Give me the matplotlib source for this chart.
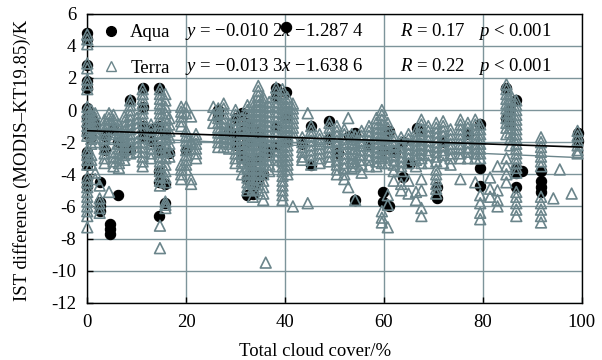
import numpy as np
import matplotlib.pyplot as plt
from matplotlib.lines import Line2D

plt.rcParams['font.family'] = ['Liberation Serif', 'DejaVu Serif']
plt.rcParams['mathtext.fontset'] = 'custom'
plt.rcParams['mathtext.rm'] = 'Liberation Serif'
plt.rcParams['mathtext.it'] = 'Liberation Serif:italic'
plt.rcParams['axes.unicode_minus'] = False
plt.rcParams['font.size'] = 13.5

# Aqua: cloud cover (%) of each column and the IST differences (K) stacked there
aqua_x = [0, 0.8, 1.6, 2.5, 3.5, 4.5, 5.2, 6.3, 7.5, 8.7, 11.2, 13.0, 14.6, 15.8, 16.5,
          20.0, 26.5, 28.7, 30.0, 31.3, 32.3, 33.5, 34.6, 35.6, 36.8, 38.2, 40.2, 43.5,
          45.2, 49.0, 50.8, 53.0, 54.2, 57.0, 59.8, 61.0, 62.3, 63.8, 65.2, 66.7, 67.3,
          70.8, 72.0, 77.0, 79.4, 84.8, 85.6, 86.8, 88.0, 91.8, 99.2]
aqua_y = [
    [4.8, 4.4, 2.8, 1.8, 1.4, 0.1, -0.5, -1.0, -1.5, -2.6, -3.0, -3.4, -4.3, -4.7],
    [-0.4, -1.1, -1.7],
    [-0.9],
    [-4.5, -5.7, -6.0, -6.3],
    [-1.6, -2.5],
    [-7.1, -7.4, -7.7],
    [-1.2],
    [-2.0, -5.3],
    [-2.6],
    [0.6, -2.4],
    [1.4, 0.2, -1.0, -1.3, -1.6],
    [-1.2, -1.9],
    [1.4, -1.0, -2.5, -3.8, -4.5, -6.6],
    [-1.5, -4.6, -5.8],
    [-2.7],
    [-2.5],
    [0.0, -0.4],
    [-1.3],
    [-0.5, -1.6, -2.2],
    [-0.2, -1.3, -2.8],
    [-0.8, -2.0, -3.2, -4.3, -5.3],
    [-1.2, -3.8, -4.8, -5.2],
    [-1.5, -3.0, -4.4],
    [-2.3, -4.0],
    [-2.6],
    [1.4, 0.9, -1.0, -2.2],
    [5.2, 1.1, -0.5, -2.0],
    [-2.1],
    [-1.0, -3.4],
    [-0.7, -1.8],
    [-2.7],
    [-1.6],
    [-1.4, -5.6],
    [-2.2],
    [-2.5, -5.1, -5.7],
    [-1.3, -6.0],
    [-2.6],
    [-2.0, -4.2],
    [-3.3],
    [-1.1],
    [-1.3],
    [-4.8, -5.5],
    [-2.0],
    [-1.5],
    [-0.9, -3.6, -4.7],
    [1.35, -0.5],
    [0.0, -0.8],
    [0.6, -3.6, -3.9, -4.8],
    [-3.8],
    [-3.8, -4.4, -4.8, -5.1],
    [-1.4, -1.9],
]

# Terra: same layout
terra_x = [0, 0.8, 1.6, 2.5, 3.5, 4.4, 5.3, 6.4, 7.5, 8.7, 10.0, 11.2, 12.9, 14.7, 15.8,
           16.6, 19.0, 20.0, 21.0, 22.0, 25.5, 26.5, 27.6, 28.7, 30.0, 31.3, 32.4, 33.5,
           34.6, 35.6, 36.1, 36.8, 38.2, 39.5, 40.5, 41.6, 43.5, 44.6, 45.3, 47.0, 49.0,
           50.5, 52.0, 52.8, 53.5, 54.2, 55.5, 57.0, 58.5, 59.6, 60.8, 62.0, 63.5, 65.0,
           66.5, 67.6, 69.0, 70.6, 72.0, 73.5, 75.5, 77.0, 78.5, 79.5, 81.5, 83.0, 84.8,
           85.6, 86.8, 91.8, 94.3, 95.6, 98.0, 99.2]
terra_y = [
    [4.7, 4.4, 4.1, 2.9, 2.6, 1.9, 1.6, 1.3, 0.2, -0.1, -0.4, -0.7, -1.0, -1.3, -1.6,
     -2.5, -2.8, -3.1, -3.4, -4.2, -4.5, -4.8, -5.1, -5.4, -5.7, -6.0, -6.3, -6.6, -7.3],
    [0.0, -0.3, -0.6, -0.9, -1.2, -1.5, -1.8, -2.1, -2.8, -3.1, -3.4],
    [-0.2, -0.5, -0.8, -1.1, -1.4, -1.7, -2.0, -3.9, -4.3],
    [-4.7, -5.5, -5.8, -6.1, -6.4],
    [-0.6, -0.9, -1.2, -1.5, -1.8, -2.1, -2.4, -2.7, -3.0, -3.3],
    [-0.2, -0.5, -0.8, -5.1],
    [-0.3, -0.6, -0.9, -1.2, -1.5, -1.8, -2.6, -2.9, -3.2, -3.5],
    [-0.9, -1.2, -1.5, -1.8, -2.1, -2.4, -2.7, -3.0, -3.3, -3.6],
    [-0.4, -0.7, -1.0, -1.3, -1.6, -1.9, -2.2, -2.5, -2.8, -3.1],
    [0.6, 0.3, 0.0, -0.3, -0.6, -0.9, -1.2, -1.5, -1.8, -2.1, -2.4, -2.7],
    [-0.5, -0.8, -1.1, -2.0, -2.3, -2.6],
    [1.3, 1.0, 0.7, 0.4, 0.1, -0.2, -0.5, -0.8, -1.1, -1.4, -1.7, -2.0, -2.3, -2.6,
     -2.9, -3.2, -3.5],
    [-0.9, -1.2, -1.5, -1.8, -2.1, -2.4, -2.7, -3.0],
    [1.3, 1.0, 0.7, 0.4, 0.1, -0.2, -0.5, -0.8, -1.1, -1.4, -1.7, -2.0, -2.3, -2.6,
     -2.9, -3.2, -3.5, -3.8, -4.1, -4.4, -4.7, -7.2, -8.6],
    [1.0, 0.6, 0.2, -0.2, -0.6, -1.0, -1.4, -1.8, -2.2, -2.6, -3.0, -3.4, -3.8, -4.2,
     -4.5, -5.7, -5.9, -6.1],
    [-0.5, -0.9, -1.3, -1.7, -2.1, -2.5, -2.9],
    [0.2, -0.1, -0.4, -0.7, -1.0, -3.4, -3.7, -4.0, -4.3],
    [0.2, -0.2, -1.3, -1.6, -1.9, -2.2, -2.5, -2.8, -3.1, -3.4, -3.7],
    [-0.4, -2.0, -2.4, -4.3, -4.6],
    [-1.5, -1.8, -2.1, -2.4, -2.7, -3.0],
    [0.2, -0.3, -0.8],
    [0.1, -0.2, -0.5, -0.8, -1.1, -1.4, -1.7, -2.0, -2.3],
    [0.4, 0.1, -0.2, -0.5, -0.8, -1.1, -1.4, -1.7, -2.0, -2.3],
    [-0.9, -1.2, -1.5, -1.8, -2.1, -2.4],
    [0.0, -0.3, -0.6, -0.9, -1.2, -1.5, -1.8, -2.1, -2.4, -2.7, -3.0, -3.3],
    [-0.5, -0.8, -1.1, -1.4, -1.7, -2.0, -2.3, -2.6, -2.9, -3.2, -3.5, -4.0],
    [0.3, 0.0, -0.3, -0.6, -0.9, -1.2, -1.5, -1.8, -2.1, -2.4, -2.7, -3.0, -3.3, -3.6,
     -3.9, -4.2, -4.5, -4.8, -5.0],
    [0.5, 0.2, -0.1, -0.4, -0.7, -1.0, -1.3, -1.6, -1.9, -2.2, -2.5, -2.8, -3.1, -3.4,
     -3.7, -4.0, -4.3, -4.6, -4.9, -5.4],
    [1.5, 1.2, 0.9, 0.6, 0.3, 0.0, -0.3, -0.6, -0.9, -1.2, -1.5, -1.8, -2.1, -2.4, -2.7,
     -3.0, -3.3, -3.6, -3.9, -4.2, -4.6, -5.0],
    [0.8, 0.5, 0.2, -0.1, -0.4, -0.7, -1.0, -1.3, -1.6, -1.9, -2.2, -2.5, -2.8, -3.1,
     -3.4, -3.7, -4.0, -4.4, -4.8, -5.2, -5.6],
    [-9.5],
    [0.5, 0.2, -0.1, -0.4, -0.7, -1.0, -1.3, -1.6, -1.9, -2.2, -2.5, -2.8, -3.1, -3.4, -3.8],
    [1.4, 1.1, 0.8, 0.5, 0.2, -0.1, -0.4, -0.7, -1.0, -1.3, -1.6, -1.9, -2.2, -2.5, -2.8,
     -3.1, -3.5],
    [1.3, 1.0, 0.7, 0.4, 0.1, -0.2, -0.5, -0.8, -1.1, -1.4, -1.7, -2.0, -2.3, -2.6, -2.9,
     -3.2, -3.5, -3.8, -4.1, -4.4, -4.7, -5.0, -5.3, -5.6],
    [0.8, 0.5, 0.2, -0.1, -0.4, -0.7, -1.0, -1.3, -1.6, -1.9, -2.2, -2.5, -2.8, -3.1,
     -3.4, -3.7, -4.0],
    [0.4, 0.1, -0.2, -0.5, -0.8, -1.1, -1.4, -1.7, -6.0],
    [-1.7, -2.0, -2.3, -2.6, -2.9, -3.1],
    [-0.2, -5.8],
    [-1.0, -1.3, -1.6, -1.9, -2.2, -2.5, -2.8, -3.1, -3.4],
    [-1.5, -1.8, -2.1, -2.4, -2.7, -3.0, -3.3],
    [-0.8, -1.1, -1.4, -1.7, -2.0, -2.3, -2.6, -2.9, -3.2],
    [-1.0, -1.3, -1.6, -1.9, -2.2, -2.5, -2.8, -3.1, -3.4, -3.7, -4.0],
    [-1.2, -1.5, -1.8, -2.1, -2.4, -2.7, -3.0, -3.3, -3.6, -4.0, -4.3],
    [-0.5, -4.8],
    [-1.5, -1.8, -2.1, -2.4, -2.7, -3.0, -3.3, -3.6],
    [-1.6, -2.0, -2.4, -2.8, -3.2, -3.5, -5.6],
    [-1.3, -1.6, -1.9, -2.2, -2.5, -2.8, -3.1, -3.4, -3.9],
    [-1.0, -1.3, -1.6, -1.9, -2.2, -2.5, -2.8, -3.1, -3.5],
    [-0.5, -0.8, -1.1, -1.4, -1.7, -2.0, -2.3, -2.6, -2.9, -3.2, -3.5],
    [0.0, -0.3, -0.6, -0.9, -1.2, -1.5, -1.8, -2.1, -2.4, -2.7, -3.0, -3.3, -6.3, -6.7, -7.0],
    [-0.8, -1.1, -1.4, -1.7, -2.0, -2.3, -2.6, -2.9, -3.3, -5.3, -5.9, -7.3],
    [-1.6, -1.9, -2.2, -2.5, -2.8, -3.1, -3.4, -3.8, -4.4],
    [-1.7, -2.0, -2.3, -2.6, -2.9, -3.2, -3.5, -3.8, -4.6, -5.0],
    [-1.5, -1.8, -2.1, -2.4, -2.7, -3.0, -3.3, -4.4, -5.2],
    [-1.3, -1.6, -1.9, -2.2, -2.5, -2.8, -3.1, -3.5, -5.1, -5.6],
    [-0.6, -0.9, -1.2, -1.5, -1.8, -2.1, -2.4, -2.7, -3.0, -3.3, -4.3, -5.0, -6.1, -6.6],
    [-1.0, -1.3, -1.6, -1.9, -2.2, -2.5, -2.8, -3.3],
    [-0.8, -1.1, -1.4, -1.7, -2.0, -2.3, -2.6, -2.9, -3.2, -3.7, -4.0, -4.3, -4.6, -4.9, -5.2],
    [-0.7, -1.0, -1.3, -1.6, -1.9, -2.2, -2.5, -2.8, -3.3],
    [-1.2, -1.5, -1.8, -2.1, -2.4, -2.7, -3.0, -3.4],
    [-0.6, -0.9, -1.2, -1.5, -1.8, -2.1, -2.4, -2.7, -3.0, -4.3],
    [-0.8, -1.1, -1.4, -1.7, -2.0, -2.3, -2.6, -3.0],
    [-0.6, -0.9, -1.2, -1.5, -1.8, -2.1, -2.4, -2.7, -3.0, -4.5],
    [-0.9, -1.2, -1.5, -1.8, -2.1, -2.4, -2.7, -3.0, -5.3, -5.8, -6.4, -6.8],
    [-4.2, -4.9, -5.4],
    [-3.5, -5.0, -5.6, -6.0],
    [1.6, 1.3, 1.0, 0.7, 0.4, 0.1, -0.2, -0.5, -0.8, -1.1, -1.5, -3.0, -3.5, -4.0, -4.5],
    [1.0, 0.7, 0.4, 0.1, -0.2, -0.5, -0.8, -1.1, -1.4, -1.8, -2.2],
    [0.6, 0.3, 0.0, -0.3, -0.6, -0.9, -1.2, -1.5, -1.8, -2.1, -2.4, -2.7, -3.0, -3.3,
     -3.6, -3.9, -5.1, -5.4, -5.8, -6.2, -6.6],
    [-1.7, -2.0, -2.3, -2.6, -2.9, -3.2, -3.5, -5.4, -5.8, -6.2, -6.6, -7.0],
    [-5.5],
    [-3.7],
    [-5.2],
    [-1.3, -1.6, -1.9, -2.2, -2.5, -2.7],
]

# linear fits from the figure
fit_slope = [-0.0102, -0.0133]
fit_icpt = [-1.2874, -1.6386]
eq_text = [r'$y$ = −0.010 2$x$ −1.287 4', r'$y$ = −0.013 3$x$ −1.638 6']
r_text = [r'$R$ = 0.17', r'$R$ = 0.22']
p_text = [r'$p$ < 0.001', r'$p$ < 0.001']

grey = '#6b858b'

ax_pts_x = [x for x, ys in zip(aqua_x, aqua_y) for _ in ys]
ax_pts_y = [y for ys in aqua_y for y in ys]
te_pts_x = [x for x, ys in zip(terra_x, terra_y) for _ in ys]
te_pts_y = [y for ys in terra_y for y in ys]

fig = plt.figure(figsize=(6.02, 3.6), dpi=100)
ax = fig.add_axes([0.145, 0.159, 0.821, 0.803])

ax.scatter(ax_pts_x, ax_pts_y, s=55, marker='o', facecolor='black',
           edgecolor='black', linewidths=0.8, zorder=3, clip_on=False)
ax.scatter(te_pts_x, te_pts_y, s=60, marker='^', facecolor='none',
           edgecolor=grey, linewidths=1.2, zorder=4, clip_on=False)

xs = np.array([0, 100])
ax.plot(xs, fit_slope[0] * xs + fit_icpt[0], color='black', lw=1.2, zorder=6)
ax.plot(xs, fit_slope[1] * xs + fit_icpt[1], color=grey, lw=1.0, zorder=5)

ax.set_xlim(0, 100)
ax.set_ylim(-12, 6)
ax.set_xticks(np.arange(0, 101, 20))
ax.set_yticks(np.arange(-12, 7, 2))
ax.grid(True, color='#7d949a', lw=1.0, zorder=0)
ax.set_axisbelow(True)
for sp in ax.spines.values():
    sp.set_color('black')
    sp.set_linewidth(1.0)
ax.tick_params(direction='in', length=4, width=1, color='black')
ax.tick_params(axis='x', pad=8)
ax.tick_params(axis='y', pad=8)

handles = [Line2D([], [], marker='o', ls='none', color='black', markersize=7),
           Line2D([], [], marker='^', ls='none', markerfacecolor='none',
                  markeredgecolor=grey, markeredgewidth=1.0, markersize=7.5)]
leg = ax.legend(handles, ['Aqua', 'Terra'], loc='upper left', frameon=False,
                bbox_to_anchor=(0.03, 0.964), borderpad=0, borderaxespad=0,
                handlelength=1.0, handletextpad=0.5, labelspacing=0.98)
leg.set_zorder(7)

for i, yrow in enumerate([4.88, 2.70]):
    ax.text(19.8, yrow, eq_text[i], ha='left', va='center', zorder=7)
    ax.text(63.3, yrow, r_text[i], ha='left', va='center', zorder=7)
    ax.text(79.0, yrow, p_text[i], ha='left', va='center', zorder=7)

fig.text(315 / 602, 1 - 352 / 360, 'Total cloud cover/%', ha='center', va='center')
fig.text(22 / 602, 1 - 160 / 360, 'IST difference (MODIS–KT19.85)/K',
         ha='center', va='center', rotation=90)

fig.savefig('out.png', dpi=100)
